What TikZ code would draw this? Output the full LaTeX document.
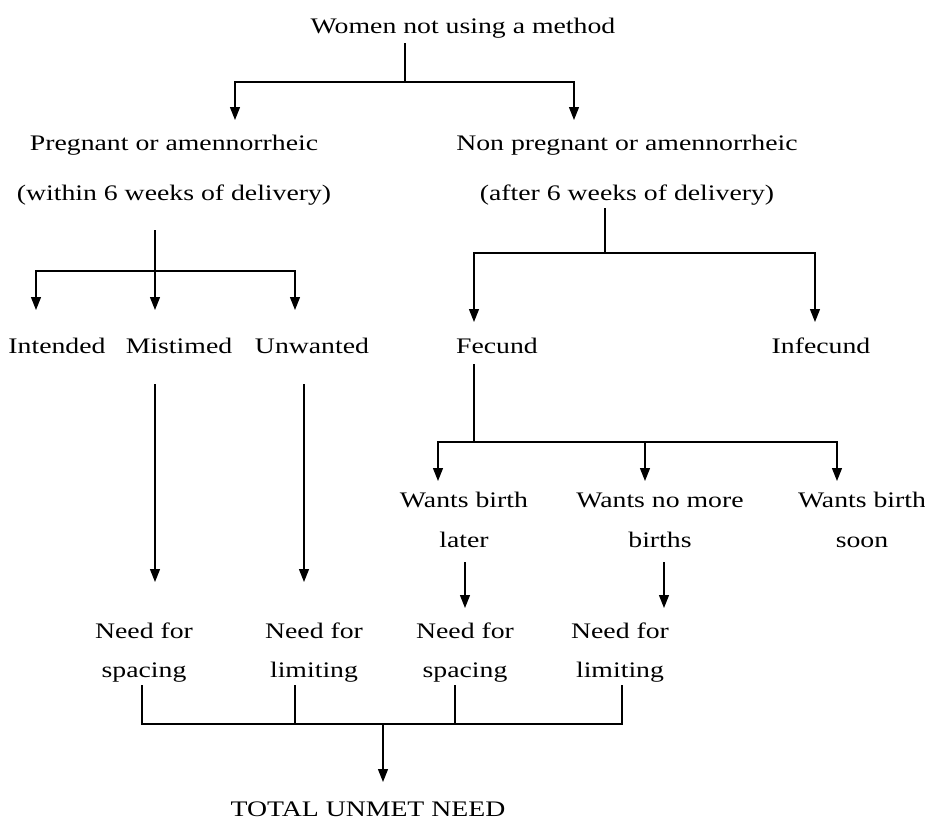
\documentclass[tikz,border=0pt]{standalone}
\usepackage{fontspec}
\setmainfont{Liberation Serif}[FakeStretch=1.25]
\usetikzlibrary{arrows.meta}
\tikzset{
  lbl/.style={font=\fontsize{22.2}{26}\selectfont, inner sep=0pt, align=center, anchor=base},
  ln/.style={line width=1.3pt},
  arr/.style={ln, -{Triangle[length=13pt,width=10pt]}}
}
\begin{document}
\begin{tikzpicture}[x=1pt,y=-1pt]
\path[use as bounding box, fill=white] (0,0) rectangle (925,820);
% text nodes (base anchor = baseline of last line)
\node[lbl] (title) at (463,33) {Women not using a method};
\node[lbl] (preg) at (174,200) {Pregnant or amennorrheic\\[24pt](within 6 weeks of delivery)};
\node[lbl] (nonpreg) at (627,200) {Non pregnant or amennorrheic\\[24pt](after 6 weeks of delivery)};
\node[lbl] (intended) at (57,353) {Intended};
\node[lbl] (mistimed) at (179,353) {Mistimed};
\node[lbl] (unwanted) at (312,353) {Unwanted};
\node[lbl] (fecund) at (497,353) {Fecund};
\node[lbl] (infecund) at (821,353) {Infecund};
\node[lbl] (later) at (464,547) {Wants birth\\[14pt]later};
\node[lbl] (nomore) at (660,547) {Wants no more\\[14pt]births};
\node[lbl] (soon) at (862,547) {Wants birth\\[14pt]soon};
\node[lbl] (need1) at (144,677) {Need for\\[13pt]spacing};
\node[lbl] (need2) at (314,677) {Need for\\[13pt]limiting};
\node[lbl] (need3) at (465,677) {Need for\\[13pt]spacing};
\node[lbl] (need4) at (620,677) {Need for\\[13pt]limiting};
\node[lbl] (total) at (368,816) {TOTAL UNMET NEED};
% coordinates
\coordinate (t0) at (405,43);   \coordinate (tj) at (405,82);
\coordinate (ta1) at (235,120); \coordinate (ta2) at (574,120);
\coordinate (p0) at (155,230);  \coordinate (pj) at (155,271);
\coordinate (pa1) at (36,310);  \coordinate (pa2) at (155,310); \coordinate (pa3) at (295,310);
\coordinate (q0) at (605,208);  \coordinate (qj) at (605,253);
\coordinate (qa1) at (474,322); \coordinate (qa2) at (815,322);
\coordinate (m0) at (155,384);  \coordinate (m1) at (155,582);
\coordinate (u0) at (304,384);  \coordinate (u1) at (304,582);
\coordinate (f0) at (474,364);  \coordinate (fj) at (474,442);
\coordinate (fa1) at (438,481); \coordinate (fa2) at (645,481); \coordinate (fa3) at (837,481);
\coordinate (l0) at (465,562);  \coordinate (l1) at (465,608);
\coordinate (n0) at (664,562);  \coordinate (n1) at (664,608);
\coordinate (b1) at (142,685);  \coordinate (b2) at (295,685);
\coordinate (b3) at (455,685);  \coordinate (b4) at (622,685);
\coordinate (bj) at (383,724);  \coordinate (ba) at (383,782);
% connectors
\draw[ln] (t0) -- (tj);
\draw[arr] (tj) -| (ta1);
\draw[arr] (tj) -| (ta2);
\draw[ln] (p0) -- (pj);
\draw[arr] (pj) -| (pa1);
\draw[arr] (pj) -- (pa2);
\draw[arr] (pj) -| (pa3);
\draw[ln] (q0) -- (qj);
\draw[arr] (qj) -| (qa1);
\draw[arr] (qj) -| (qa2);
\draw[arr] (m0) -- (m1);
\draw[arr] (u0) -- (u1);
\draw[ln] (f0) -- (fj);
\draw[arr] (fj) -| (fa1);
\draw[arr] (fj) -| (fa2);
\draw[arr] (fj) -| (fa3);
\draw[arr] (l0) -- (l1);
\draw[arr] (n0) -- (n1);
\draw[ln] (b1) |- (b4 |- bj) -- (b4);
\draw[ln] (b2) -- (b2 |- bj);
\draw[ln] (b3) -- (b3 |- bj);
\draw[arr] (bj) -- (ba);
\end{tikzpicture}
\end{document}
